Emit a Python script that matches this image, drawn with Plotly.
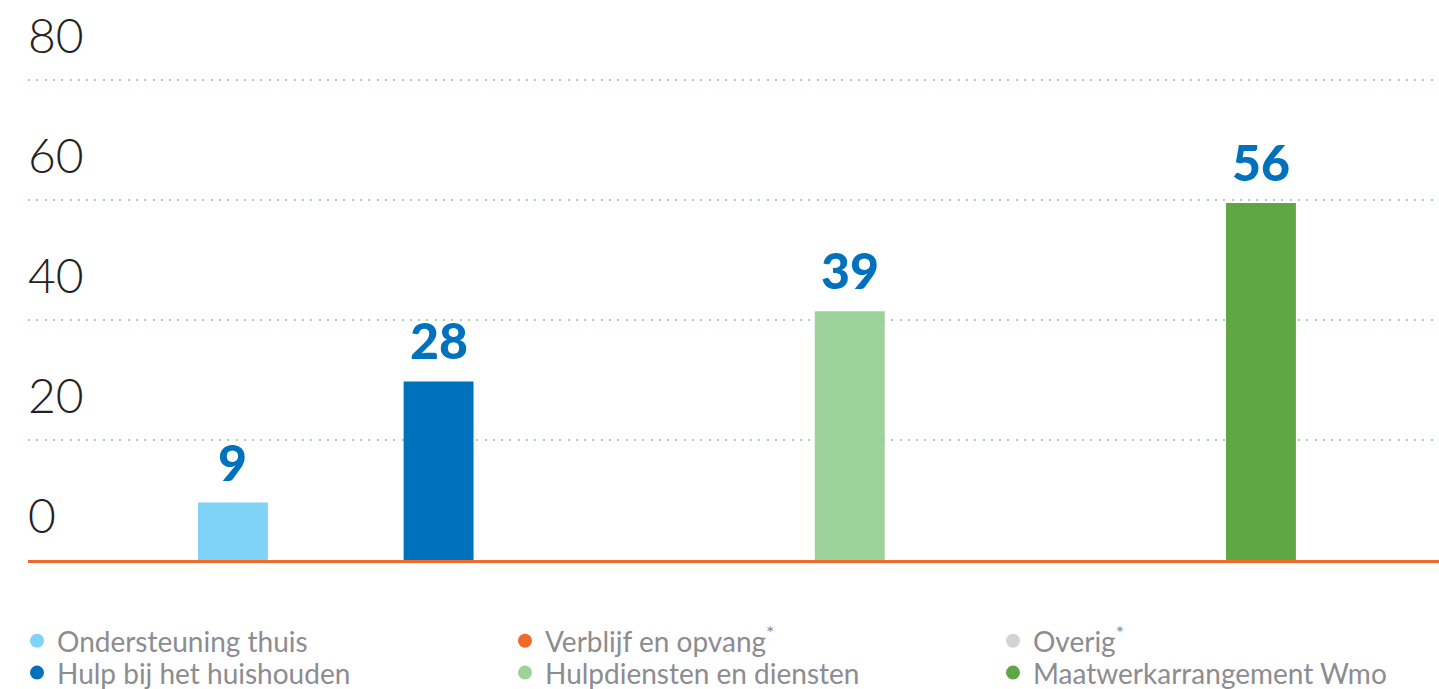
import plotly.graph_objects as go

categories = ["Ondersteuning thuis", "Hulp bij het huishouden", "Verblijf en opvang",
              "Hulpdiensten en diensten", "Overig", "Maatwerkarrangement Wmo"]
values = [9, 28, None, 39, None, 56]
colors = ["#7fd3f7", "#0071bc", "#f26a2a", "#9dd39a", "#d1d3d4", "#5ea744"]
legend_labels = ["Ondersteuning thuis", "Hulp bij het huishouden",
                 "Verblijf en opvang<sup>*</sup>", "Hulpdiensten en diensten",
                 "Overig<sup>*</sup>", "Maatwerkarrangement Wmo"]
tick_values = [0, 20, 40, 60, 80]
tick_labels = ["0", "20", "40", "60", "80"]

fig = go.Figure()

bx = [c for c, v in zip(categories, values) if v is not None]
by = [v for v in values if v is not None]
bc = [col for col, v in zip(colors, values) if v is not None]

fig.add_trace(go.Bar(x=bx, y=by, marker=dict(color=bc, line=dict(width=0)),
                     width=0.34, yaxis="y2", showlegend=False, hoverinfo="skip"))

legend_font = dict(family="Lato", size=28, color="#8c8c91")
col_x = [(17 - 28) / 1411, (505 - 28) / 1411, (993 - 28) / 1411]
row_y = [-0.1, -0.157]
legend_layout = {}
for i, (name, col) in enumerate(zip(legend_labels, colors)):
    key = "legend" if i == 0 else f"legend{i + 1}"
    fig.add_trace(go.Scatter(x=[None], y=[None], mode="markers", name=name,
                             marker=dict(symbol="circle", size=14, color=col),
                             legend=key, showlegend=True))
    legend_layout[key] = dict(x=col_x[i // 2], xanchor="left", y=row_y[i % 2],
                              yanchor="top", font=legend_font,
                              bgcolor="rgba(0,0,0,0)", orientation="v")

for c, v in zip(bx, by):
    fig.add_annotation(x=c, y=v, xref="x", yref="y2", text=str(v), showarrow=False,
                       yanchor="bottom", yshift=9,
                       font=dict(family="Lato", size=50, color="#0071bc", weight=900))

fig.update_layout(
    width=1439, height=689,
    margin=dict(l=28, r=0, t=0, b=129, autoexpand=False),
    plot_bgcolor="white", paper_bgcolor="white",
    barmode="overlay",
    xaxis=dict(type="category", categoryorder="array", categoryarray=categories,
               range=[-0.997, 5.866], showticklabels=False, showgrid=False,
               zeroline=False, showline=True, linecolor="#f26a2a", linewidth=3,
               ticks="", automargin=False),
    yaxis=dict(range=[0, 93.333], tickvals=tick_values, ticktext=tick_labels,
               showgrid=True, gridcolor="#a3d9a0", gridwidth=2, griddash="2px,6.3px",
               zeroline=False, showline=False, ticks="", automargin=False,
               ticklabelposition="inside", ticklabelshift=-44, ticklabelstandoff=-3,
               tickfont=dict(family="Lato", size=48, color="#222222", weight=300)),
    yaxis2=dict(range=[0, 87.84], overlaying="y", visible=False),
    showlegend=True,
    **legend_layout,
)

fig.write_html("out.html", config={"displayModeBar": False},
               post_script="document.body.style.margin='0';")
